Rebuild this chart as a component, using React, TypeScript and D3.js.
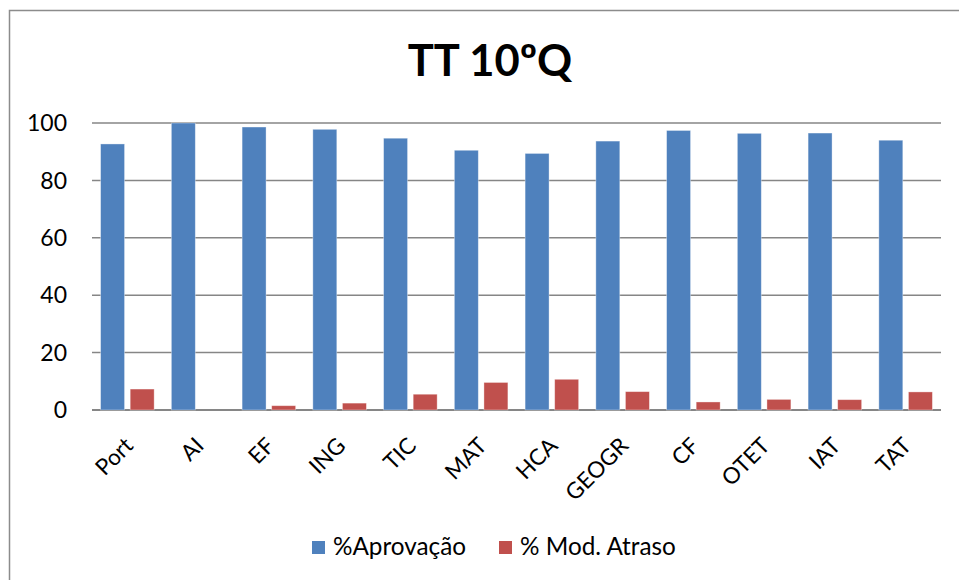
import React from "react";
import * as d3 from "d3";

const categories = ["Port", "AI", "EF", "ING", "TIC", "MAT", "HCA", "GEOGR", "CF", "OTET", "IAT", "TAT"];
const aprovacao = [92.7, 100, 98.6, 97.8, 94.7, 90.5, 89.4, 93.7, 97.4, 96.4, 96.5, 94.0];
const modAtraso = [7.3, 0, 1.5, 2.4, 5.5, 9.6, 10.7, 6.4, 2.8, 3.7, 3.6, 6.3];
const seriesNames = ["%Aprovação", "% Mod. Atraso"];
const yTicks = [0, 20, 40, 60, 80, 100];
const title = "TT 10ºQ";

const colors = ["#4F81BD", "#C0504D"];
const FONT = "Lato, 'Open Sans', sans-serif";

export default function App() {
  const W = 959, H = 580;
  const left = 92, right = 941, top = 123, bottom = 410;
  const x0 = d3.scaleBand<string>().domain(categories).range([left, right]).padding(0);
  const bw = x0.bandwidth();
  const x1 = d3.scaleBand<string>().domain(seriesNames).range([8.6, bw - 8.6]).paddingInner(0.19);
  const y = d3.scaleLinear().domain([0, 100]).range([bottom, top]);
  const series = [aprovacao, modAtraso];

  return (
    <svg width={W} height={H} style={{ position: "absolute", left: 0, top: 0, background: "#fff" }} fontFamily={FONT}>
      <rect x={9.5} y={10.5} width={W} height={H} fill="#fff" stroke="#8c8c8c" strokeWidth={1.5} />
      <text x={490} y={76} textAnchor="middle" fontSize={43.5} fontWeight="bold" fill="#000">{title}</text>
      {yTicks.map((t) => (
        <g key={t}>
          <line x1={left} x2={right} y1={y(t)} y2={y(t)} stroke="#868686" strokeWidth={t === 0 ? 2 : 1.5} />
          <text x={67} y={y(t)} dy="0.36em" textAnchor="end" fontSize={23} fill="#000">{t}</text>
        </g>
      ))}
      {categories.map((c, i) => (
        <g key={c} transform={`translate(${x0(c)},0)`}>
          {series.map((s, j) => (
            <rect key={j} x={x1(seriesNames[j])} y={y(s[i])} width={x1.bandwidth()} height={y(0) - y(s[i])}
              fill={colors[j]} stroke="rgba(255,255,255,0.45)" strokeWidth={0.8} />
          ))}
        </g>
      ))}
      {categories.map((c) => {
        const cx = (x0(c) as number) + bw / 2 - 4;
        return (
          <text key={c} transform={`translate(${cx},${436}) rotate(-45)`} textAnchor="end" dy="0.7em" fontSize={22.5} fill="#000">{c}</text>
        );
      })}
      <g>
        <rect x={312} y={541} width={13} height={13} fill={colors[0]} />
        <text x={333} y={555} fontSize={24.3} fill="#000">{seriesNames[0]}</text>
        <rect x={499} y={541} width={13} height={13} fill={colors[1]} />
        <text x={520} y={555} fontSize={24.3} fill="#000">{seriesNames[1]}</text>
      </g>
    </svg>
  );
}
